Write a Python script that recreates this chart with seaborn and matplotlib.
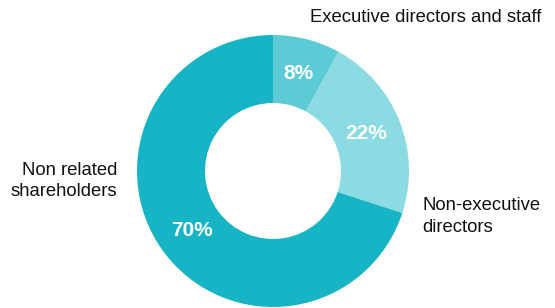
import matplotlib
matplotlib.use("Agg")
import matplotlib.pyplot as plt
import seaborn as sns

sns.set_theme(style="white")
plt.rcParams['font.family'] = ['Liberation Sans', 'DejaVu Sans']

categories = ["Executive directors and staff", "Non-executive\ndirectors", "Non related\nshareholders"]
values = [8, 22, 70]
colors = ["#5ccbd6", "#8cdae2", "#17b4c6"]

W, H = 555, 308
fig = plt.figure(figsize=(W / 100, H / 100), dpi=100)
cx, cy, R = 273, 171, 136
ax = fig.add_axes([(cx - R) / W, (H - cy - R) / H, 2 * R / W, 2 * R / H])

wedges, texts, autotexts = ax.pie(
    values, colors=colors, startangle=90, counterclock=False,
    radius=1.0, wedgeprops=dict(width=0.5, edgecolor="none", linewidth=0),
    autopct=lambda p: f"{p:.0f}%", pctdistance=0.74,
    textprops=dict(color="white", fontsize=15, fontweight="bold"))
ax.set_xlim(-1, 1)
ax.set_ylim(-1, 1)
ax.set_aspect("equal")
ax.axis("off")

lab_kw = dict(fontsize=13.3, color="#111111", va="center")
ax.text(0.27, 1.125, categories[0], ha="left", **lab_kw)
ax.text(1.10, -0.336, categories[1], ha="left", linespacing=1.35, **lab_kw)
ax.text(-1.147, -0.075, categories[2], ha="right", multialignment="right", linespacing=1.35, **lab_kw)

fig.savefig("out.png", dpi=100)
